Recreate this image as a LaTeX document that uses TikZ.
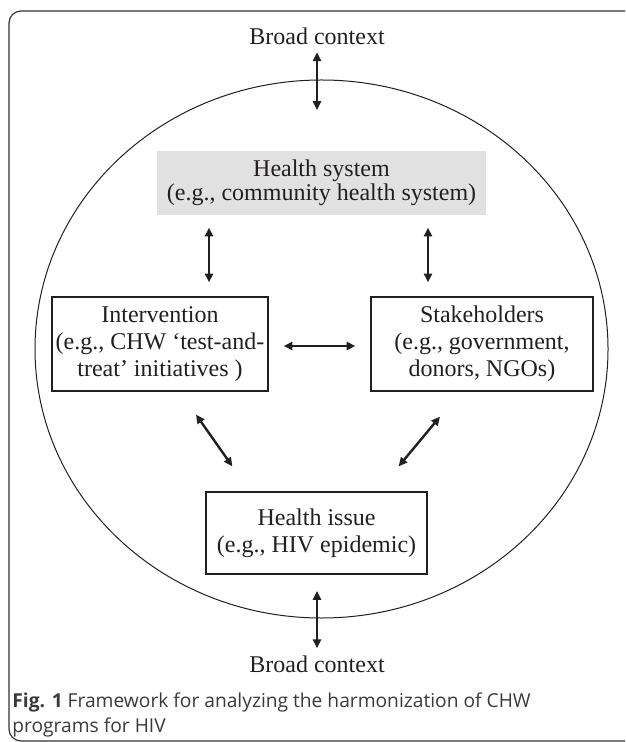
\documentclass[tikz,border=0pt]{standalone}
\usepackage{fontspec}
\setmainfont{Liberation Serif}
\setsansfont{Open Sans}
\usetikzlibrary{arrows.meta}
\definecolor{boxgray}{HTML}{E1E1E1}
\definecolor{inkline}{HTML}{231F20}
\definecolor{framegray}{HTML}{333333}
\definecolor{captext}{HTML}{3A3A3A}

\begin{document}
\begin{tikzpicture}[x=0.5pt,y=-0.5pt,
    framebox/.style={draw=inkline,line width=0.6pt,align=center,inner sep=0pt,
      text=inkline,font=\fontsize{12}{13.5}\selectfont},
    link/.style={{Triangle[length=4.4pt,width=4pt]}-{Triangle[length=4.4pt,width=4pt]},
      line width=1.2pt,inkline},
    ctx/.style={font=\fontsize{12}{14}\selectfont,text=inkline}]
  \useasboundingbox (0,0) rectangle (625,742);
  % figure frame, runs off the right edge
  \begin{scope}
    \clip (0,0) rectangle (625,742);
    \draw[framegray,line width=0.6pt,rounded corners=6pt] (9,11) rectangle (660,741);
  \end{scope}
  \draw[inkline,line width=0.5pt] (321.5,349) ellipse [x radius=143.25pt, y radius=134.5pt];
  % context labels
  \node[ctx,anchor=base] (topctx) at (317,45) {Broad context};
  \node[ctx,anchor=base] (botctx) at (317,672) {Broad context};
  \coordinate (topend) at (317,110);
  \coordinate (botstart) at (317,591);
  \coordinate (lcol) at (209,0);
  \coordinate (rcol) at (428,0);
  % the four parts
  \node[framebox,draw=none,fill=boxgray,minimum width=164.5pt,minimum height=32pt,
    font=\fontsize{12}{12}\selectfont] (hsys) at (321.5,183)
    {Health system\\(e.g., community health system)};
  \node[framebox,minimum width=108pt,minimum height=47pt] (interv) at (160,344)
    {Intervention\\(e.g., CHW `test-and-\\treat' initiatives )};
  \node[framebox,minimum width=111pt,minimum height=47pt] (stake) at (482,344)
    {Stakeholders\\(e.g., government,\\donors, NGOs)};
  \node[framebox,minimum width=110.5pt,minimum height=41pt] (issue) at (316.5,533)
    {Health issue\\(e.g., HIV epidemic)};
  % links
  \draw[link] (topctx) -- (topend);
  \draw[link] (botstart) -- (botctx);
  \draw[link,shorten <=6pt,shorten >=7pt] (hsys.south -| lcol) -- (interv.north -| lcol);
  \draw[link,shorten <=6pt,shorten >=7pt] (hsys.south -| rcol) -- (stake.north -| rcol);
  \draw[link,shorten <=7.5pt,shorten >=7.5pt] ([yshift=-1pt]interv.east) -- ([yshift=-1pt]stake.west);
  \draw[link] ([shift={(36,23)}]interv.south) -- ([shift={(27,-25)}]issue.north west);
  \draw[link] ([shift={(-42,25)}]stake.south) -- ([shift={(-29,-25)}]issue.north east);
  % caption
  \node[anchor=north west,inner sep=0pt,align=left,text=captext,
    font=\sffamily\fontsize{9.6}{12.5}\selectfont] (cap) at (12,692)
    {\textbf{Fig. 1} Framework for analyzing the harmonization of CHW\\programs for HIV};
\end{tikzpicture}
\end{document}
